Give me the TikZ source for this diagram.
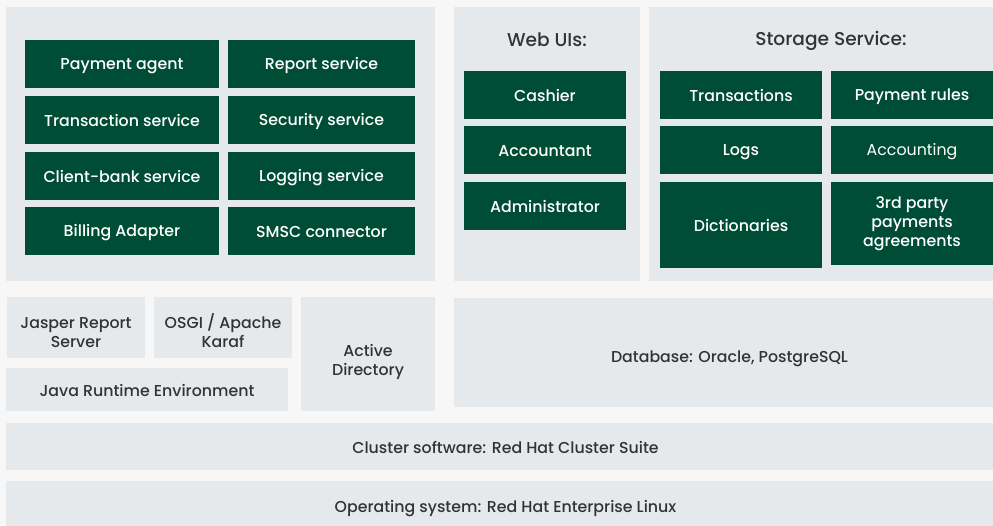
\documentclass[tikz,border=0pt]{standalone}
\usepackage{fontspec}
\setmainfont{Poppins Medium}
\newfontfamily\lightfont{Poppins}
\definecolor{pagegray}{HTML}{F7F7F7}
\definecolor{panelgray}{HTML}{E6E9EC}
\definecolor{darkgreen}{HTML}{004D36}
\definecolor{labelgray}{HTML}{333333}
\newcommand{\boxstrut}{\rule[-2pt]{0pt}{17.5pt}}

\begin{document}
\begin{tikzpicture}[x=1pt,y=-1pt]
\tikzstyle{every node} = [rectangle, inner sep=0pt, align=center, font=\fontsize{15.8}{19}\selectfont,
  execute at begin node=\boxstrut, execute at end node=\boxstrut]
\tikzstyle{panel} = [fill=panelgray, text=labelgray]
\tikzstyle{panel label} = [text=labelgray]
\tikzstyle{service} = [fill=darkgreen, text=white, minimum height=48]
\tikzstyle{heading} = [text=labelgray, font=\fontsize{18.6}{22}\selectfont]
\useasboundingbox (0,0) rectangle (993,525);
\fill[pagegray] (0,0) rectangle (993,525);
\clip (0,0) rectangle (993,525);

% upper panels
\node[panel, minimum width=429, minimum height=274] (core) at (220.5,144) {};
\node[panel, minimum width=186, minimum height=274] (webui) at (547,144) {};
\node[panel, minimum width=364, minimum height=274] (storage) at (831,144) {};

% core services
\node[service, minimum width=194] (agent) at (122,64) {Payment agent};
\node[service, minimum width=187] (report) at (321.5,64) {Report service};
\node[service, minimum width=194] (trans) at (122,120) {Transaction service};
\node[service, minimum width=187] (security) at (321.5,120) {Security service};
\node[service, minimum width=194] (clientbank) at (122,176) {Client-bank service};
\node[service, minimum width=187] (logging) at (321.5,176) {Logging service};
\node[service, minimum width=194] (billing) at (122,231) {Billing Adapter};
\node[service, minimum width=187] (smsc) at (321.5,231) {SMSC connector};

% web interfaces
\node[heading] (webtitle) at (547,40) {Web UIs:};
\node[service, minimum width=162] (cashier) at (545,95) {Cashier};
\node[service, minimum width=162] (accountant) at (545,150) {Accountant};
\node[service, minimum width=162] (admin) at (545,206) {Administrator};

% storage
\node[heading] (storetitle) at (831,40) {Storage Service:};
\node[service, minimum width=162] (transactions) at (741,95) {Transactions};
\node[service, minimum width=162] (rules) at (912,95) {Payment rules};
\node[service, minimum width=162] (logs) at (741,150) {Logs};
\node[service, minimum width=162] (accounting) at (912,150) {\lightfont Accounting};
\node[service, minimum width=162, minimum height=86] (dicts) at (741,225) {Dictionaries};
\node[service, minimum width=162, minimum height=83] (agreements) at (912,223.5) {3rd party\\payments\\agreements};

% platform layers
\node[panel, minimum width=138, minimum height=61] (jasper) at (76,327.5) {};
\node[panel label, yshift=-6] (jasperlabel) at (jasper.center) {Jasper Report\\Server};
\node[panel, minimum width=138, minimum height=61] (osgi) at (223,327.5) {};
\node[panel label, yshift=-4] (osgilabel) at (osgi.center) {OSGI / Apache\\Karaf};
\node[panel, minimum width=282, minimum height=43] (jre) at (147,389.5) {Java Runtime Environment};
\node[panel, minimum width=134, minimum height=114] (ad) at (368,354) {};
\node[panel label, yshift=-8] (adlabel) at (ad.center) {Active\\Directory};
\node[panel, minimum width=551, minimum height=109] (db) at (729.5,352.5) {};
\node[panel label, yshift=-4] (dblabel) at (db.center) {Database: Oracle, PostgreSQL};
\node[panel, minimum width=999, minimum height=47] (cluster) at (505.5,446.5) {Cluster software: Red Hat Cluster Suite};
\node[panel, minimum width=999, minimum height=52] (os) at (505.5,507) {Operating system: Red Hat Enterprise Linux};
\end{tikzpicture}
\end{document}
